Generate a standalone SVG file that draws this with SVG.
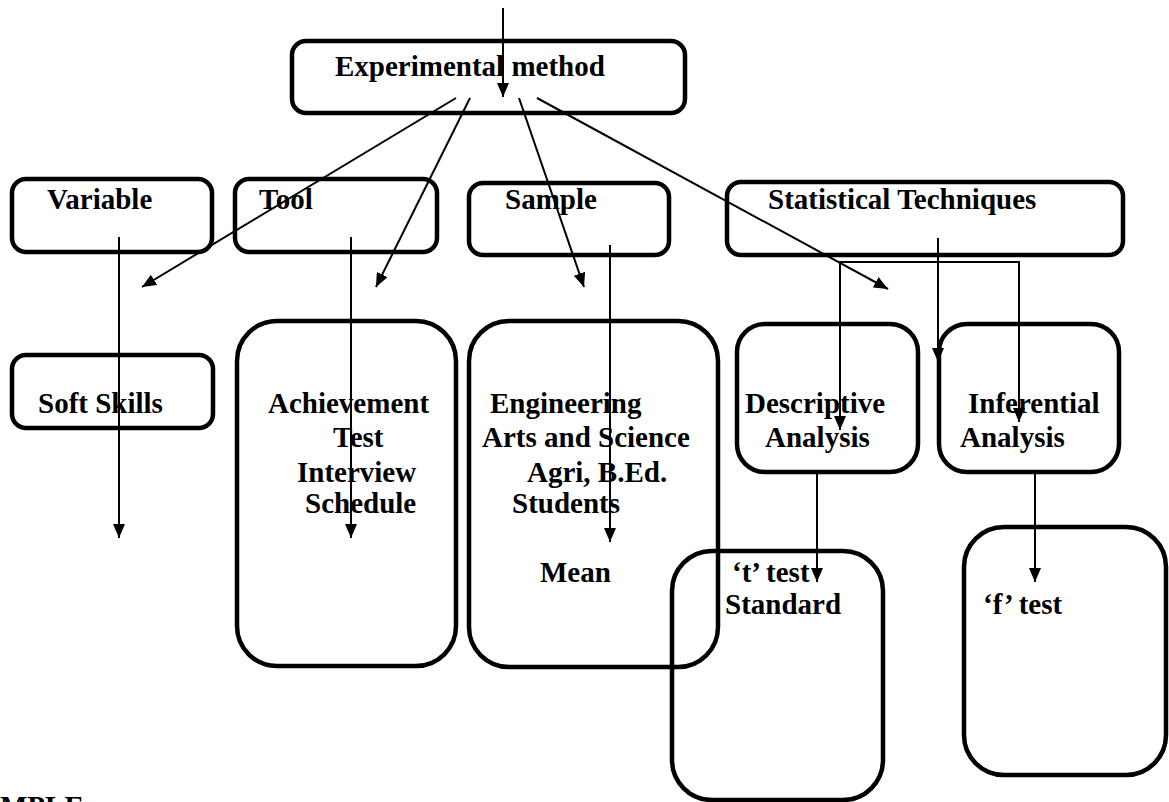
<svg xmlns="http://www.w3.org/2000/svg" width="1169" height="802" viewBox="0 0 1169 802">
<style>
.box{fill:none;stroke:#000;stroke-width:4.5}
.t{font-family:"Liberation Serif","Times New Roman",serif;font-weight:bold;font-size:29px;fill:#000}
.c{fill:none;stroke:#000;stroke-width:2}
</style>
<defs>
<marker id="ah" markerWidth="14" markerHeight="12" refX="14" refY="6" orient="auto" markerUnits="userSpaceOnUse"><path d="M0,0 L14,6 L0,12 z" fill="#000"/></marker>
</defs>
<rect width="1169" height="802" fill="#fff"/>
<g id="experimental"><rect class="box" x="292" y="41" width="393" height="72" rx="14"/><text class="t" x="335" y="76">Experimental method</text></g>
<g id="variable"><rect class="box" x="12" y="179" width="200" height="73" rx="14"/><text class="t" x="47" y="209">Variable</text></g>
<g id="tool"><rect class="box" x="235" y="179" width="202" height="73" rx="14"/><text class="t" x="259" y="209">Tool</text></g>
<g id="sample"><rect class="box" x="469" y="183" width="200" height="72" rx="14"/><text class="t" x="505" y="209">Sample</text></g>
<g id="statistical"><rect class="box" x="727" y="182" width="396" height="73" rx="14"/><text class="t" x="768" y="209">Statistical Techniques</text></g>
<g id="softskills"><rect class="box" x="12" y="355" width="201" height="73" rx="14"/><text class="t" x="38" y="413">Soft Skills</text></g>
<g id="achievement"><rect class="box" x="237" y="321" width="219" height="345" rx="40"/>
<text class="t" x="268" y="413">Achievement</text><text class="t" x="333" y="447">Test</text><text class="t" x="297" y="482">Interview</text><text class="t" x="305" y="513">Schedule</text></g>
<g id="engineering"><rect class="box" x="469" y="321" width="249" height="346" rx="40"/>
<text class="t" x="490" y="413">Engineering</text><text class="t" x="482" y="447">Arts and Science</text><text class="t" x="527" y="482">Agri, B.Ed.</text><text class="t" x="512" y="513">Students</text><text class="t" x="540" y="582">Mean</text></g>
<g id="descriptive"><rect class="box" x="737" y="324" width="181" height="148" rx="28"/>
<text class="t" x="745" y="413">Descriptive</text><text class="t" x="765" y="447">Analysis</text></g>
<g id="inferential"><rect class="box" x="939" y="324" width="180" height="148" rx="28"/>
<text class="t" x="968" y="413">Inferential</text><text class="t" x="960" y="447">Analysis</text></g>
<g id="ttest"><rect class="box" x="672" y="551" width="211" height="249" rx="40"/>
<text class="t" x="732" y="582">‘t’ test</text><text class="t" x="725" y="614">Standard</text></g>
<g id="ftest"><rect class="box" x="964" y="527" width="202" height="248" rx="40"/>
<text class="t" x="983" y="614">‘f’ test</text></g>
<g id="mple"><text class="t" x="0" y="816">MPLE</text></g>
<g id="connectors">
<line class="c" x1="503" y1="8" x2="503" y2="97" marker-end="url(#ah)"/>
<line class="c" x1="456" y1="98" x2="142" y2="287" marker-end="url(#ah)"/>
<line class="c" x1="470" y1="98" x2="376" y2="287" marker-end="url(#ah)"/>
<line class="c" x1="519" y1="98" x2="584" y2="287" marker-end="url(#ah)"/>
<line class="c" x1="537" y1="98" x2="888" y2="289" marker-end="url(#ah)"/>
<line class="c" x1="119" y1="237" x2="119" y2="538" marker-end="url(#ah)"/>
<line class="c" x1="351" y1="237" x2="351" y2="538" marker-end="url(#ah)"/>
<line class="c" x1="610" y1="245" x2="610" y2="542" marker-end="url(#ah)"/>
<line class="c" x1="938" y1="238" x2="938" y2="362" marker-end="url(#ah)"/>
<path class="c" d="M840,262 V430" marker-end="url(#ah)"/>
<path class="c" d="M1019,262 V422" marker-end="url(#ah)"/>
<line class="c" x1="839" y1="262" x2="1020" y2="262"/>
<line class="c" x1="817" y1="473" x2="817" y2="582" marker-end="url(#ah)"/>
<line class="c" x1="1035" y1="472" x2="1035" y2="582" marker-end="url(#ah)"/>
</g>
</svg>
